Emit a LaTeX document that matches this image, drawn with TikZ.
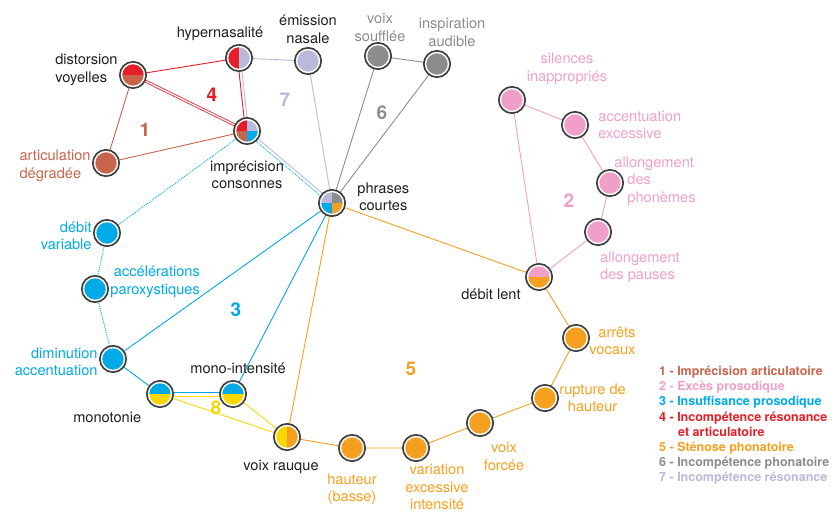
\documentclass[tikz,border=0pt]{standalone}
\usepackage{fontspec}
\setmainfont{TeX Gyre Heros}
\usepackage{tikz}
\usepackage{xcolor}
\usetikzlibrary{positioning,backgrounds}

\definecolor{grp1}{RGB}{200,100,75}
\definecolor{grp2}{RGB}{240,160,200}
\definecolor{grp3}{RGB}{0,170,230}
\definecolor{grp4}{RGB}{230,30,40}
\definecolor{grp5}{RGB}{245,160,30}
\definecolor{grp6}{RGB}{140,140,140}
\definecolor{grp7}{RGB}{185,185,220}
\definecolor{grp8}{RGB}{250,215,0}
\definecolor{ring}{RGB}{60,60,60}
\definecolor{ink}{RGB}{30,30,30}

\begin{document}
\begin{tikzpicture}
[
x=1pt, y=-1pt,
dot/.style={circle, minimum size=23pt, inner sep=0pt, draw=white, line width=1.4pt,
            preaction={draw=ring, line width=5pt}},
full/.style={dot, fill=#1},
tb/.style 2 args={dot, path picture={
   \fill[#1] (path picture bounding box.west) rectangle (path picture bounding box.north east);
   \fill[#2] (path picture bounding box.west) rectangle (path picture bounding box.south east);}},
lr/.style 2 args={dot, path picture={
   \fill[#1] (path picture bounding box.north west) rectangle (path picture bounding box.south);
   \fill[#2] (path picture bounding box.north) rectangle (path picture bounding box.south east);}},
quad/.style n args={4}{dot, path picture={
   \fill[#1] (path picture bounding box.center) rectangle (path picture bounding box.north west);
   \fill[#2] (path picture bounding box.center) rectangle (path picture bounding box.north east);
   \fill[#3] (path picture bounding box.center) rectangle (path picture bounding box.south west);
   \fill[#4] (path picture bounding box.center) rectangle (path picture bounding box.south east);}},
lab/.style={font=\fontsize{14.6}{17.5}\selectfont, inner sep=1pt, text=ink, align=center},
num/.style={font=\fontsize{19}{19}\selectfont\bfseries, inner sep=0pt},
edge/.style={line width=0.9pt},
dots/.style={line width=0.9pt, grp3, densely dotted}
]
\useasboundingbox (0,0) rectangle (832,513);

% circles
\node (dv)   [tb={grp4}{grp1}]              at (133,75)  {};
\node (hyp)  [lr={grp4}{grp7}]              at (239,58)  {};
\node (emi)  [full=grp7]                    at (308,61)  {};
\node (vs)   [full=grp6]                    at (378,56)  {};
\node (ia)   [full=grp6]                    at (437,64)  {};
\node (ic)   [quad={grp4}{grp7}{grp1}{grp3}] at (247,131) {};
\node (ad)   [full=grp1]                    at (106,163) {};
\node (pc)   [quad={grp7}{grp6}{grp3}{grp5}] at (332,203) {};
\node (dbv)  [full=grp3]                    at (107,233) {};
\node (acc)  [full=grp3]                    at (95,289)  {};
\node (dim)  [full=grp3]                    at (113,359) {};
\node (mono) [tb={grp3}{grp8}]              at (160,394) {};
\node (mi)   [tb={grp3}{grp8}]              at (233,394) {};
\node (vr)   [lr={grp8}{grp5}]              at (287,437) {};
\node (hb)   [full=grp5]                    at (352,448) {};
\node (vei)  [full=grp5]                    at (416,448) {};
\node (vf)   [full=grp5]                    at (480,423) {};
\node (rh)   [full=grp5]                    at (545,398) {};
\node (av)   [full=grp5]                    at (576,338) {};
\node (dl)   [tb={grp2}{grp5}]              at (539,277) {};
\node (ap)   [full=grp2]                    at (598,232) {};
\node (aph)  [full=grp2]                    at (610,183) {};
\node (ae)   [full=grp2]                    at (575,125) {};
\node (si)   [full=grp2]                    at (512,100) {};

% labels
\node (dv-lab)   [lab, align=left, left=2pt of dv, yshift=5pt]      {distorsion\\voyelles};
\node (hyp-lab)  [lab, above=4pt of hyp, xshift=-19pt]              {hypernasalité};
\node (emi-lab)  [lab, above=4pt of emi]                            {émission\\nasale};
\node (vs-lab)   [lab, text=grp6, above=1pt of vs, xshift=2pt]      {voix\\soufflée};
\node (ia-lab)   [lab, text=grp6, above=4pt of ia, xshift=15pt]     {inspiration\\audible};
\node (ic-lab)   [lab, below=16pt of ic]                            {imprécision\\consonnes};
\node (ad-lab)   [lab, text=grp1, align=left, left=2pt of ad, yshift=-3pt] {articulation\\dégradée};
\node (pc-lab)   [lab, right=12pt of pc, yshift=6pt]                {phrases\\courtes};
\node (dbv-lab)  [lab, text=grp3, align=right, left=2pt of dbv, yshift=-3pt] {débit\\variable};
\node (acc-lab)  [lab, text=grp3, align=right, right=2pt of acc, yshift=7pt] {accélérations\\paroxystiques};
\node (dim-lab)  [lab, text=grp3, align=right, left=2pt of dim, yshift=-3pt] {diminution\\accentuation};
\node (mono-lab) [lab, below left=8pt and 9pt of mono]              {monotonie};
\node (mi-lab)   [lab, above=7pt of mi, xshift=5pt]                 {mono-intensité};
\node (vr-lab)   [lab, below=10pt of vr, xshift=-6pt]               {voix rauque};
\node (hb-lab)   [lab, text=grp5, below=12pt of hb]                 {hauteur\\(basse)};
\node (vei-lab)  [lab, text=grp5, below=3pt of vei, xshift=21pt]    {variation\\excessive\\intensité};
\node (vf-lab)   [lab, text=grp5, below=6pt of vf, xshift=24pt]     {voix\\forcée};
\node (rh-lab)   [lab, text=grp5, right=1pt of rh]                  {rupture de\\hauteur};
\node (av-lab)   [lab, text=grp5, align=right, right=0pt of av, yshift=-3pt] {arrêts\\vocaux};
\node (dl-lab)   [lab, left=5pt of dl, yshift=-17pt]                {débit lent};
\node (ap-lab)   [lab, text=grp2, align=left, below=6pt of ap, xshift=42pt] {allongement\\des pauses};
\node (aph-lab)  [lab, text=grp2, align=left, right=-9pt of aph, yshift=2pt]
                 {allongement\\\hspace*{13pt}des\\\hspace*{13pt}phonèmes};
\node (ae-lab)   [lab, text=grp2, align=left, right=10pt of ae]     {accentuation\\excessive};
\node (si-lab)   [lab, text=grp2, above=0pt of si, xshift=55pt, yshift=2pt] {silences\\inappropriés};

% group numbers
\node (num-1) [num, text=grp1] at (145,130) {1};
\node (num-2) [num, text=grp2] at (569,201) {2};
\node (num-3) [num, text=grp3] at (236,310) {3};
\node (num-4) [num, text=grp4] at (212,95)  {4};
\node (num-5) [num, text=grp5] at (411,369) {5};
\node (num-6) [num, text=grp6] at (382,113) {6};
\node (num-7) [num, text=grp7] at (285,100) {7};
\node (num-8) [num, text=grp8] at (216,408) {8};

% legend
\node (legend) [anchor=north west, align=left, inner sep=0pt,
                font=\fontsize{12.5}{15.15}\selectfont\bfseries] at (659,366)
  {\textcolor{grp1}{1 - Imprécision articulatoire}\\
   \textcolor{grp2}{2 - Excès prosodique}\\
   \textcolor{grp3}{3 - Insuffisance prosodique}\\
   \textcolor{grp4}{4 - Incompétence résonance}\\
   \textcolor{grp4}{\hspace*{19pt}et articulatoire}\\
   \textcolor{grp5}{5 - Sténose phonatoire}\\
   \textcolor{grp6}{6 - Incompétence phonatoire}\\
   \textcolor{grp7}{7 - Incompétence résonance}};

% links
\begin{scope}[on background layer]
\draw [edge, grp1] (dv) -- (ad);
\draw [edge, grp1] (ad) -- (ic);
\draw [grp4, line width=0.8pt, double=white, double distance=1.3pt] (dv.center) -- (ic.center);
\draw [edge, grp4] (dv) -- (hyp);
\draw [edge, grp4] ([xshift=-1.5pt]hyp.center) -- ([xshift=-1.5pt]ic.center);
\draw [edge, grp7] ([xshift=1.5pt]hyp.center) -- ([xshift=1.5pt]ic.center);
\draw [edge, grp7] (hyp) -- (emi);
\draw [edge, grp7] (emi) -- (pc);
\draw [edge, grp7] ([xshift=0.8pt,yshift=0.9pt]ic.center) -- ([xshift=0.8pt,yshift=0.9pt]pc.center);
\draw [dots] ([xshift=-1.3pt,yshift=-1.5pt]ic.center) -- ([xshift=-1.3pt,yshift=-1.5pt]pc.center);
\draw [dots] (ic) -- (dbv) -- (acc) -- (dim);
\draw [edge, grp6] (vs) -- (ia);
\draw [edge, grp6] (vs) -- (pc);
\draw [edge, grp6] (ia) -- (pc);
\draw [edge, grp3] (pc) -- (dim);
\draw [edge, grp3] (pc) -- (mi);
\draw [edge, grp3] (dim) -- (mono);
\draw [edge, grp3] ([yshift=1.5pt]mono.center) -- ([yshift=1.5pt]mi.center);
\draw [edge, grp8] ([yshift=-2pt]mono.center) -- ([yshift=-2pt]mi.center);
\draw [edge, grp8] (mono) -- (vr);
\draw [edge, grp8] (mi) -- (vr);
\draw [edge, grp5] (pc) -- (vr);
\draw [edge, grp5] (pc) -- (dl);
\draw [edge, grp5] (vr) -- (hb) -- (vei) -- (vf) -- (rh) -- (av) -- (dl);
\draw [edge, grp2] (dl) -- (si) -- (ae) -- (aph) -- (ap) -- (dl);
\end{scope}

\end{tikzpicture}
\end{document}
